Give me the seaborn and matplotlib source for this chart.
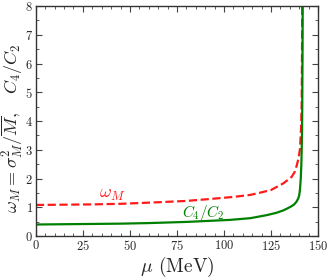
import numpy as np
import pandas as pd
import matplotlib
matplotlib.use('Agg')
import matplotlib.pyplot as plt
import seaborn as sns

# values
mu_omega = [0, 15, 30, 45, 60, 80, 93, 105, 114, 120, 125, 131.5, 133.5, 136,
            137.5, 138.7, 139.6, 140.4, 141.0, 141.3, 141.45, 141.55, 141.6]
omega_M = [1.08, 1.09, 1.10, 1.12, 1.16, 1.22, 1.29, 1.36, 1.43, 1.52, 1.60,
           1.83, 1.93, 2.06, 2.22, 2.46, 2.70, 3.03, 3.8, 4.6, 6.0, 7.5, 8.5]

mu_c42 = [0, 15, 30, 45, 60, 80, 103, 114, 123, 128, 131.5, 134, 136, 137.3,
          138.5, 139.5, 140.0, 140.4, 140.8, 141.1, 141.3, 141.5, 141.6,
          141.75, 141.85]
c4_c2 = [0.40, 0.41, 0.42, 0.43, 0.45, 0.49, 0.56, 0.62, 0.73, 0.81, 0.89,
         0.97, 1.04, 1.10, 1.19, 1.31, 1.42, 1.62, 2.0, 2.45, 3.0, 3.7, 4.5,
         6.5, 8.5]

x_ticks = [0, 25, 50, 75, 100, 125, 150]
y_ticks = [0, 1, 2, 3, 4, 5, 6, 7, 8]

sns.set_style('ticks')
plt.rcParams['font.family'] = 'serif'
plt.rcParams['font.serif'] = ['cmr10', 'DejaVu Serif']
plt.rcParams['mathtext.fontset'] = 'cm'
plt.rcParams['axes.formatter.use_mathtext'] = True

fig = plt.figure(figsize=(3.32, 2.77), dpi=100)
ax = fig.add_axes([0.108, 0.148, 0.850, 0.830])

sns.lineplot(x=mu_omega, y=omega_M, ax=ax, color='#ff1a1a', linestyle='--',
             linewidth=1.6, dashes=(3, 2.2))
sns.lineplot(x=mu_c42, y=c4_c2, ax=ax, color='#008000', linewidth=1.6)

ax.set_xlim(0, 150)
ax.set_ylim(0, 8)
ax.set_xticks(x_ticks)
ax.set_yticks(y_ticks)
ax.set_xticks(np.arange(0, 151, 5), minor=True)
ax.set_yticks(np.arange(0, 8.01, 0.5), minor=True)
ax.tick_params(which='both', direction='in', top=True, right=True,
               labelsize=9, pad=2, color='#444444')
ax.tick_params(which='major', length=4, width=0.8)
ax.tick_params(which='minor', length=2, width=0.6)
for s in ax.spines.values():
    s.set_linewidth(1.0)
    s.set_color('#333333')

ax.text(40.5, 1.43, r'$\omega_M$', color='#ff1a1a', fontsize=13,
        ha='center', va='center')
ax.text(89, 0.80, r'$C_4/C_2$', color='#008000', fontsize=11,
        ha='center', va='center')

ax.set_xlabel(r'$\mu$ (MeV)', fontsize=14)
ax.xaxis.set_label_coords(0.5, -0.08)
ax.set_ylabel(r'$\omega_M = \sigma^2_M/\overline{M},\quad C_4/C_2$',
              fontsize=13)
ax.yaxis.set_label_coords(-0.037, 0.47)

fig.savefig('out.png', dpi=100)
